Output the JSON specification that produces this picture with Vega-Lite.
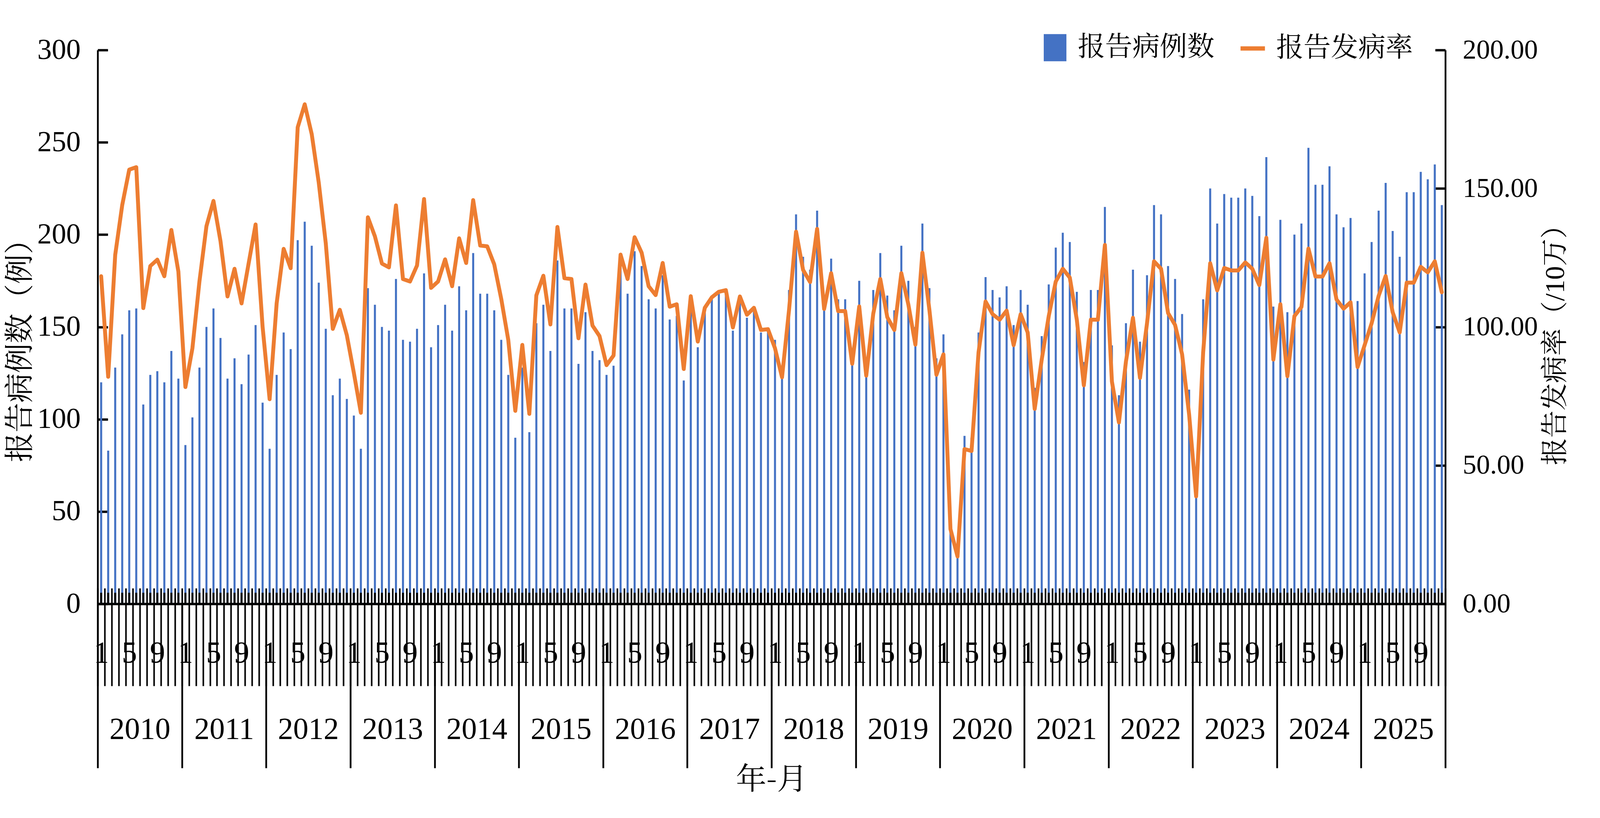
{
  "$schema": "https://vega.github.io/schema/vega-lite/v6.json",
  "autosize": {"type": "none"},
  "padding": {"left": 250, "top": 128, "right": 486, "bottom": 548},
  "width": 3450,
  "height": 1417,
  "background": "white",
  "config": {"view": {"stroke": null}, "font": "Liberation Serif"},
  "data": {
    "values": [
      {"ym": "2010-01", "year": "2010", "cases": 120, "rate": 118.3},
      {"ym": "2010-02", "year": "2010", "cases": 83, "rate": 82.0},
      {"ym": "2010-03", "year": "2010", "cases": 128, "rate": 126.0},
      {"ym": "2010-04", "year": "2010", "cases": 146, "rate": 144.0},
      {"ym": "2010-05", "year": "2010", "cases": 159, "rate": 156.8},
      {"ym": "2010-06", "year": "2010", "cases": 160, "rate": 157.7},
      {"ym": "2010-07", "year": "2010", "cases": 108, "rate": 106.8},
      {"ym": "2010-08", "year": "2010", "cases": 124, "rate": 122.0},
      {"ym": "2010-09", "year": "2010", "cases": 126, "rate": 124.3},
      {"ym": "2010-10", "year": "2010", "cases": 120, "rate": 118.3},
      {"ym": "2010-11", "year": "2010", "cases": 137, "rate": 135.0},
      {"ym": "2010-12", "year": "2010", "cases": 122, "rate": 120.0},
      {"ym": "2011-01", "year": "2011", "cases": 86, "rate": 78.3},
      {"ym": "2011-02", "year": "2011", "cases": 101, "rate": 92.3},
      {"ym": "2011-03", "year": "2011", "cases": 128, "rate": 116.4},
      {"ym": "2011-04", "year": "2011", "cases": 150, "rate": 136.4},
      {"ym": "2011-05", "year": "2011", "cases": 160, "rate": 145.5},
      {"ym": "2011-06", "year": "2011", "cases": 144, "rate": 131.0},
      {"ym": "2011-07", "year": "2011", "cases": 122, "rate": 111.0},
      {"ym": "2011-08", "year": "2011", "cases": 133, "rate": 121.0},
      {"ym": "2011-09", "year": "2011", "cases": 119, "rate": 108.5},
      {"ym": "2011-10", "year": "2011", "cases": 135, "rate": 122.8},
      {"ym": "2011-11", "year": "2011", "cases": 151, "rate": 137.0},
      {"ym": "2011-12", "year": "2011", "cases": 109, "rate": 100.0},
      {"ym": "2012-01", "year": "2012", "cases": 84, "rate": 73.9},
      {"ym": "2012-02", "year": "2012", "cases": 124, "rate": 108.5},
      {"ym": "2012-03", "year": "2012", "cases": 147, "rate": 128.2},
      {"ym": "2012-04", "year": "2012", "cases": 138, "rate": 121.2},
      {"ym": "2012-05", "year": "2012", "cases": 197, "rate": 172.1},
      {"ym": "2012-06", "year": "2012", "cases": 207, "rate": 180.4},
      {"ym": "2012-07", "year": "2012", "cases": 194, "rate": 169.6},
      {"ym": "2012-08", "year": "2012", "cases": 174, "rate": 152.1},
      {"ym": "2012-09", "year": "2012", "cases": 149, "rate": 130.2},
      {"ym": "2012-10", "year": "2012", "cases": 113, "rate": 99.3},
      {"ym": "2012-11", "year": "2012", "cases": 122, "rate": 106.2},
      {"ym": "2012-12", "year": "2012", "cases": 111, "rate": 97.0},
      {"ym": "2013-01", "year": "2013", "cases": 102, "rate": 83.4},
      {"ym": "2013-02", "year": "2013", "cases": 84, "rate": 69.0},
      {"ym": "2013-03", "year": "2013", "cases": 171, "rate": 139.6},
      {"ym": "2013-04", "year": "2013", "cases": 162, "rate": 132.7},
      {"ym": "2013-05", "year": "2013", "cases": 150, "rate": 122.9},
      {"ym": "2013-06", "year": "2013", "cases": 148, "rate": 121.5},
      {"ym": "2013-07", "year": "2013", "cases": 176, "rate": 143.9},
      {"ym": "2013-08", "year": "2013", "cases": 143, "rate": 117.3},
      {"ym": "2013-09", "year": "2013", "cases": 142, "rate": 116.4},
      {"ym": "2013-10", "year": "2013", "cases": 149, "rate": 122.2},
      {"ym": "2013-11", "year": "2013", "cases": 179, "rate": 146.2},
      {"ym": "2013-12", "year": "2013", "cases": 139, "rate": 114.1},
      {"ym": "2014-01", "year": "2014", "cases": 151, "rate": 116.4},
      {"ym": "2014-02", "year": "2014", "cases": 162, "rate": 124.4},
      {"ym": "2014-03", "year": "2014", "cases": 148, "rate": 114.7},
      {"ym": "2014-04", "year": "2014", "cases": 172, "rate": 132.0},
      {"ym": "2014-05", "year": "2014", "cases": 159, "rate": 123.1},
      {"ym": "2014-06", "year": "2014", "cases": 190, "rate": 145.8},
      {"ym": "2014-07", "year": "2014", "cases": 168, "rate": 129.4},
      {"ym": "2014-08", "year": "2014", "cases": 168, "rate": 129.1},
      {"ym": "2014-09", "year": "2014", "cases": 159, "rate": 122.6},
      {"ym": "2014-10", "year": "2014", "cases": 143, "rate": 110.1},
      {"ym": "2014-11", "year": "2014", "cases": 124, "rate": 95.3},
      {"ym": "2014-12", "year": "2014", "cases": 90, "rate": 69.7},
      {"ym": "2015-01", "year": "2015", "cases": 128, "rate": 93.5},
      {"ym": "2015-02", "year": "2015", "cases": 93, "rate": 68.6},
      {"ym": "2015-03", "year": "2015", "cases": 152, "rate": 111.4},
      {"ym": "2015-04", "year": "2015", "cases": 162, "rate": 118.5},
      {"ym": "2015-05", "year": "2015", "cases": 137, "rate": 100.9},
      {"ym": "2015-06", "year": "2015", "cases": 186, "rate": 136.1},
      {"ym": "2015-07", "year": "2015", "cases": 160, "rate": 117.6},
      {"ym": "2015-08", "year": "2015", "cases": 160, "rate": 117.3},
      {"ym": "2015-09", "year": "2015", "cases": 130, "rate": 95.9},
      {"ym": "2015-10", "year": "2015", "cases": 158, "rate": 115.3},
      {"ym": "2015-11", "year": "2015", "cases": 137, "rate": 100.5},
      {"ym": "2015-12", "year": "2015", "cases": 132, "rate": 96.7},
      {"ym": "2016-01", "year": "2016", "cases": 124, "rate": 86.2},
      {"ym": "2016-02", "year": "2016", "cases": 129, "rate": 89.7},
      {"ym": "2016-03", "year": "2016", "cases": 182, "rate": 126.1},
      {"ym": "2016-04", "year": "2016", "cases": 168, "rate": 117.3},
      {"ym": "2016-05", "year": "2016", "cases": 191, "rate": 132.4},
      {"ym": "2016-06", "year": "2016", "cases": 183, "rate": 126.8},
      {"ym": "2016-07", "year": "2016", "cases": 165, "rate": 114.7},
      {"ym": "2016-08", "year": "2016", "cases": 160, "rate": 111.5},
      {"ym": "2016-09", "year": "2016", "cases": 178, "rate": 123.1},
      {"ym": "2016-10", "year": "2016", "cases": 154, "rate": 107.3},
      {"ym": "2016-11", "year": "2016", "cases": 156, "rate": 108.2},
      {"ym": "2016-12", "year": "2016", "cases": 121, "rate": 84.8},
      {"ym": "2017-01", "year": "2017", "cases": 161, "rate": 111.1},
      {"ym": "2017-02", "year": "2017", "cases": 139, "rate": 94.7},
      {"ym": "2017-03", "year": "2017", "cases": 160, "rate": 106.9},
      {"ym": "2017-04", "year": "2017", "cases": 165, "rate": 110.7},
      {"ym": "2017-05", "year": "2017", "cases": 168, "rate": 112.7},
      {"ym": "2017-06", "year": "2017", "cases": 170, "rate": 113.3},
      {"ym": "2017-07", "year": "2017", "cases": 148, "rate": 99.8},
      {"ym": "2017-08", "year": "2017", "cases": 164, "rate": 111.0},
      {"ym": "2017-09", "year": "2017", "cases": 155, "rate": 104.4},
      {"ym": "2017-10", "year": "2017", "cases": 160, "rate": 106.9},
      {"ym": "2017-11", "year": "2017", "cases": 147, "rate": 98.9},
      {"ym": "2017-12", "year": "2017", "cases": 148, "rate": 99.2},
      {"ym": "2018-01", "year": "2018", "cases": 143, "rate": 92.3},
      {"ym": "2018-02", "year": "2018", "cases": 126, "rate": 81.8},
      {"ym": "2018-03", "year": "2018", "cases": 170, "rate": 106.1},
      {"ym": "2018-04", "year": "2018", "cases": 211, "rate": 134.4},
      {"ym": "2018-05", "year": "2018", "cases": 188, "rate": 120.6},
      {"ym": "2018-06", "year": "2018", "cases": 181, "rate": 116.2},
      {"ym": "2018-07", "year": "2018", "cases": 213, "rate": 135.4},
      {"ym": "2018-08", "year": "2018", "cases": 165, "rate": 106.5},
      {"ym": "2018-09", "year": "2018", "cases": 187, "rate": 119.4},
      {"ym": "2018-10", "year": "2018", "cases": 165, "rate": 105.7},
      {"ym": "2018-11", "year": "2018", "cases": 165, "rate": 105.7},
      {"ym": "2018-12", "year": "2018", "cases": 132, "rate": 86.7},
      {"ym": "2019-01", "year": "2019", "cases": 175, "rate": 107.4},
      {"ym": "2019-02", "year": "2019", "cases": 132, "rate": 82.4},
      {"ym": "2019-03", "year": "2019", "cases": 170, "rate": 104.8},
      {"ym": "2019-04", "year": "2019", "cases": 190, "rate": 117.3},
      {"ym": "2019-05", "year": "2019", "cases": 167, "rate": 103.5},
      {"ym": "2019-06", "year": "2019", "cases": 159, "rate": 98.9},
      {"ym": "2019-07", "year": "2019", "cases": 194, "rate": 119.4},
      {"ym": "2019-08", "year": "2019", "cases": 175, "rate": 108.1},
      {"ym": "2019-09", "year": "2019", "cases": 150, "rate": 93.6},
      {"ym": "2019-10", "year": "2019", "cases": 206, "rate": 126.8},
      {"ym": "2019-11", "year": "2019", "cases": 171, "rate": 106.1},
      {"ym": "2019-12", "year": "2019", "cases": 133, "rate": 82.7},
      {"ym": "2020-01", "year": "2020", "cases": 146, "rate": 90.1},
      {"ym": "2020-02", "year": "2020", "cases": 44, "rate": 27.0},
      {"ym": "2020-03", "year": "2020", "cases": 28, "rate": 17.1},
      {"ym": "2020-04", "year": "2020", "cases": 91, "rate": 55.9},
      {"ym": "2020-05", "year": "2020", "cases": 90, "rate": 55.2},
      {"ym": "2020-06", "year": "2020", "cases": 147, "rate": 90.8},
      {"ym": "2020-07", "year": "2020", "cases": 177, "rate": 109.2},
      {"ym": "2020-08", "year": "2020", "cases": 170, "rate": 104.6},
      {"ym": "2020-09", "year": "2020", "cases": 166, "rate": 102.6},
      {"ym": "2020-10", "year": "2020", "cases": 172, "rate": 105.9},
      {"ym": "2020-11", "year": "2020", "cases": 151, "rate": 93.4},
      {"ym": "2020-12", "year": "2020", "cases": 170, "rate": 104.6},
      {"ym": "2021-01", "year": "2021", "cases": 162, "rate": 98.0},
      {"ym": "2021-02", "year": "2021", "cases": 117, "rate": 70.4},
      {"ym": "2021-03", "year": "2021", "cases": 145, "rate": 88.2},
      {"ym": "2021-04", "year": "2021", "cases": 173, "rate": 103.9},
      {"ym": "2021-05", "year": "2021", "cases": 193, "rate": 116.4},
      {"ym": "2021-06", "year": "2021", "cases": 201, "rate": 121.0},
      {"ym": "2021-07", "year": "2021", "cases": 196, "rate": 117.8},
      {"ym": "2021-08", "year": "2021", "cases": 169, "rate": 102.6},
      {"ym": "2021-09", "year": "2021", "cases": 131, "rate": 78.9},
      {"ym": "2021-10", "year": "2021", "cases": 170, "rate": 102.6},
      {"ym": "2021-11", "year": "2021", "cases": 170, "rate": 102.6},
      {"ym": "2021-12", "year": "2021", "cases": 215, "rate": 129.6},
      {"ym": "2022-01", "year": "2022", "cases": 140, "rate": 80.3},
      {"ym": "2022-02", "year": "2022", "cases": 113, "rate": 65.5},
      {"ym": "2022-03", "year": "2022", "cases": 152, "rate": 87.5},
      {"ym": "2022-04", "year": "2022", "cases": 181, "rate": 103.3},
      {"ym": "2022-05", "year": "2022", "cases": 142, "rate": 81.6},
      {"ym": "2022-06", "year": "2022", "cases": 178, "rate": 101.3},
      {"ym": "2022-07", "year": "2022", "cases": 216, "rate": 123.7},
      {"ym": "2022-08", "year": "2022", "cases": 211, "rate": 121.0},
      {"ym": "2022-09", "year": "2022", "cases": 183, "rate": 105.0},
      {"ym": "2022-10", "year": "2022", "cases": 176, "rate": 100.7},
      {"ym": "2022-11", "year": "2022", "cases": 157, "rate": 90.1},
      {"ym": "2022-12", "year": "2022", "cases": 116, "rate": 68.4},
      {"ym": "2023-01", "year": "2023", "cases": 70, "rate": 38.8},
      {"ym": "2023-02", "year": "2023", "cases": 165, "rate": 90.8},
      {"ym": "2023-03", "year": "2023", "cases": 225, "rate": 123.0},
      {"ym": "2023-04", "year": "2023", "cases": 206, "rate": 113.2},
      {"ym": "2023-05", "year": "2023", "cases": 222, "rate": 121.3},
      {"ym": "2023-06", "year": "2023", "cases": 220, "rate": 120.4},
      {"ym": "2023-07", "year": "2023", "cases": 220, "rate": 120.4},
      {"ym": "2023-08", "year": "2023", "cases": 225, "rate": 123.3},
      {"ym": "2023-09", "year": "2023", "cases": 221, "rate": 121.0},
      {"ym": "2023-10", "year": "2023", "cases": 210, "rate": 115.1},
      {"ym": "2023-11", "year": "2023", "cases": 242, "rate": 132.2},
      {"ym": "2023-12", "year": "2023", "cases": 161, "rate": 88.2},
      {"ym": "2024-01", "year": "2024", "cases": 208, "rate": 108.2},
      {"ym": "2024-02", "year": "2024", "cases": 158, "rate": 82.2},
      {"ym": "2024-03", "year": "2024", "cases": 200, "rate": 103.9},
      {"ym": "2024-04", "year": "2024", "cases": 206, "rate": 107.2},
      {"ym": "2024-05", "year": "2024", "cases": 247, "rate": 128.3},
      {"ym": "2024-06", "year": "2024", "cases": 227, "rate": 118.2},
      {"ym": "2024-07", "year": "2024", "cases": 227, "rate": 118.2},
      {"ym": "2024-08", "year": "2024", "cases": 237, "rate": 123.0},
      {"ym": "2024-09", "year": "2024", "cases": 211, "rate": 109.9},
      {"ym": "2024-10", "year": "2024", "cases": 204, "rate": 106.6},
      {"ym": "2024-11", "year": "2024", "cases": 209, "rate": 108.9},
      {"ym": "2024-12", "year": "2024", "cases": 164, "rate": 85.5},
      {"ym": "2025-01", "year": "2025", "cases": 179, "rate": 93.4},
      {"ym": "2025-02", "year": "2025", "cases": 196, "rate": 101.3},
      {"ym": "2025-03", "year": "2025", "cases": 213, "rate": 111.2},
      {"ym": "2025-04", "year": "2025", "cases": 228, "rate": 118.4},
      {"ym": "2025-05", "year": "2025", "cases": 202, "rate": 105.3},
      {"ym": "2025-06", "year": "2025", "cases": 188, "rate": 98.0},
      {"ym": "2025-07", "year": "2025", "cases": 223, "rate": 116.0},
      {"ym": "2025-08", "year": "2025", "cases": 223, "rate": 116.0},
      {"ym": "2025-09", "year": "2025", "cases": 234, "rate": 121.7},
      {"ym": "2025-10", "year": "2025", "cases": 230, "rate": 119.7},
      {"ym": "2025-11", "year": "2025", "cases": 238, "rate": 123.7},
      {"ym": "2025-12", "year": "2025", "cases": 216, "rate": 112.5}
    ]
  },
  "layer": [
    {
      "layer": [
        {
          "layer": [
            {
              "mark": {"type": "bar", "width": {"band": 0.29}},
              "encoding": {
                "x": {
                  "field": "ym",
                  "type": "nominal",
                  "scale": {"type": "band", "paddingInner": 0, "paddingOuter": 0},
                  "axis": {
                    "orient": "bottom",
                    "title": null,
                    "offset": -40,
                    "domain": false,
                    "tickBand": "extent",
                    "tickSize": 250,
                    "tickWidth": 4,
                    "tickColor": "black",
                    "labelExpr": "indexof(['01','05','09'], substring(datum.value, 5, 7)) >= 0 ? '' + toNumber(substring(datum.value, 5, 7)) : ''",
                    "labelFont": "Liberation Serif",
                    "labelFontSize": 78,
                    "labelColor": "black",
                    "labelAngle": 0,
                    "labelBaseline": "middle",
                    "labelPadding": -84,
                    "labelLimit": 0,
                    "labelOverlap": false,
                    "labelBound": false,
                    "labelFlush": false
                  }
                },
                "y": {
                  "field": "cases",
                  "type": "quantitative",
                  "scale": {"domain": [0, 300], "nice": false},
                  "axis": {
                    "orient": "left",
                    "values": [0, 50, 100, 150, 200, 250, 300],
                    "grid": false,
                    "domainWidth": 4.5,
                    "domainColor": "black",
                    "tickSize": -26,
                    "tickWidth": 6,
                    "tickColor": "black",
                    "labelFont": "Liberation Serif",
                    "labelFontSize": 74,
                    "labelColor": "black",
                    "labelPadding": 70,
                    "title": "报告病例数（例）",
                    "titleFont": "Noto Serif CJK SC, Noto Sans CJK SC",
                    "titleFontSize": 76,
                    "titleFontWeight": "normal",
                    "titleColor": "black",
                    "titleAngle": -90,
                    "titleAlign": "center",
                    "titleBaseline": "middle",
                    "titleLimit": 0,
                    "titleX": -198,
                    "titleY": 750
                  }
                },
                "fill": {
                  "datum": "报告病例数",
                  "type": "nominal",
                  "scale": {"range": ["#4472C4"]},
                  "legend": {
                    "orient": "none",
                    "legendX": 2416,
                    "legendY": -41,
                    "title": null,
                    "symbolType": "M-1,-1.2L1,-1.2L1,1.2L-1,1.2Z",
                    "symbolSize": 3364,
                    "symbolStrokeWidth": 0,
                    "labelFont": "Noto Serif CJK SC, Noto Sans CJK SC",
                    "labelFontSize": 70,
                    "labelColor": "black",
                    "labelOffset": 23,
                    "labelLimit": 0
                  }
                }
              }
            },
            {
              "mark": {"type": "rule", "color": "black", "strokeWidth": 5.2},
              "encoding": {
                "x": {"field": "ym", "type": "nominal", "bandPosition": 0.5},
                "y": {"datum": 0},
                "y2": {"datum": 6}
              }
            }
          ]
        },
        {
          "mark": {"type": "line", "color": "#ED7D31", "strokeWidth": 10, "strokeJoin": "round", "strokeCap": "round"},
          "encoding": {
            "x": {
              "field": "ym",
              "type": "nominal",
              "bandPosition": 0.5,
              "scale": {"type": "band", "paddingInner": 0, "paddingOuter": 0}
            },
            "y": {
              "field": "rate",
              "type": "quantitative",
              "scale": {"domain": [0, 200], "nice": false},
              "axis": {
                "orient": "right",
                "values": [0, 50, 100, 150, 200],
                "format": ".2f",
                "grid": false,
                "domainWidth": 4.5,
                "domainColor": "black",
                "tickSize": -26,
                "tickWidth": 6,
                "tickColor": "black",
                "labelFont": "Liberation Serif",
                "labelFontSize": 70,
                "labelColor": "black",
                "labelPadding": 70,
                "labelLimit": 0,
                "title": "报告发病率（/10万）",
                "titleFont": "Liberation Serif, Noto Serif CJK SC, Noto Sans CJK SC",
                "titleFontSize": 70,
                "titleFontWeight": "normal",
                "titleColor": "black",
                "titleAngle": -90,
                "titleAlign": "center",
                "titleBaseline": "middle",
                "titleLimit": 0,
                "titleX": 282,
                "titleY": 737
              }
            },
            "stroke": {
              "datum": "报告发病率",
              "type": "nominal",
              "scale": {"range": ["#ED7D31"]},
              "legend": {
                "orient": "none",
                "legendX": 2920,
                "legendY": -41,
                "title": null,
                "symbolType": "stroke",
                "symbolSize": 3906,
                "symbolStrokeWidth": 11,
                "labelFont": "Noto Serif CJK SC, Noto Sans CJK SC",
                "labelFontSize": 70,
                "labelColor": "black",
                "labelOffset": 23,
                "labelLimit": 0
              }
            }
          }
        }
      ],
      "resolve": {"scale": {"y": "independent"}}
    },
    {
      "mark": {"type": "point", "opacity": 0},
      "encoding": {
        "x": {
          "field": "year",
          "type": "nominal",
          "scale": {"type": "band", "paddingInner": 0, "paddingOuter": 0},
          "axis": {
            "orient": "bottom",
            "domain": true,
            "domainWidth": 6,
            "domainColor": "black",
            "tickBand": "extent",
            "tickSize": 420,
            "tickWidth": 4.5,
            "tickColor": "black",
            "labelFont": "Liberation Serif",
            "labelFontSize": 78,
            "labelColor": "black",
            "labelAngle": 0,
            "labelBaseline": "middle",
            "labelPadding": -99,
            "labelLimit": 0,
            "labelFlush": false,
            "title": "年-月",
            "titleFont": "Noto Serif CJK SC, Noto Sans CJK SC",
            "titleFontSize": 78,
            "titleFontWeight": "normal",
            "titleColor": "black",
            "titleBaseline": "middle",
            "titleY": 451
          }
        }
      }
    }
  ],
  "resolve": {"scale": {"x": "independent"}}
}
